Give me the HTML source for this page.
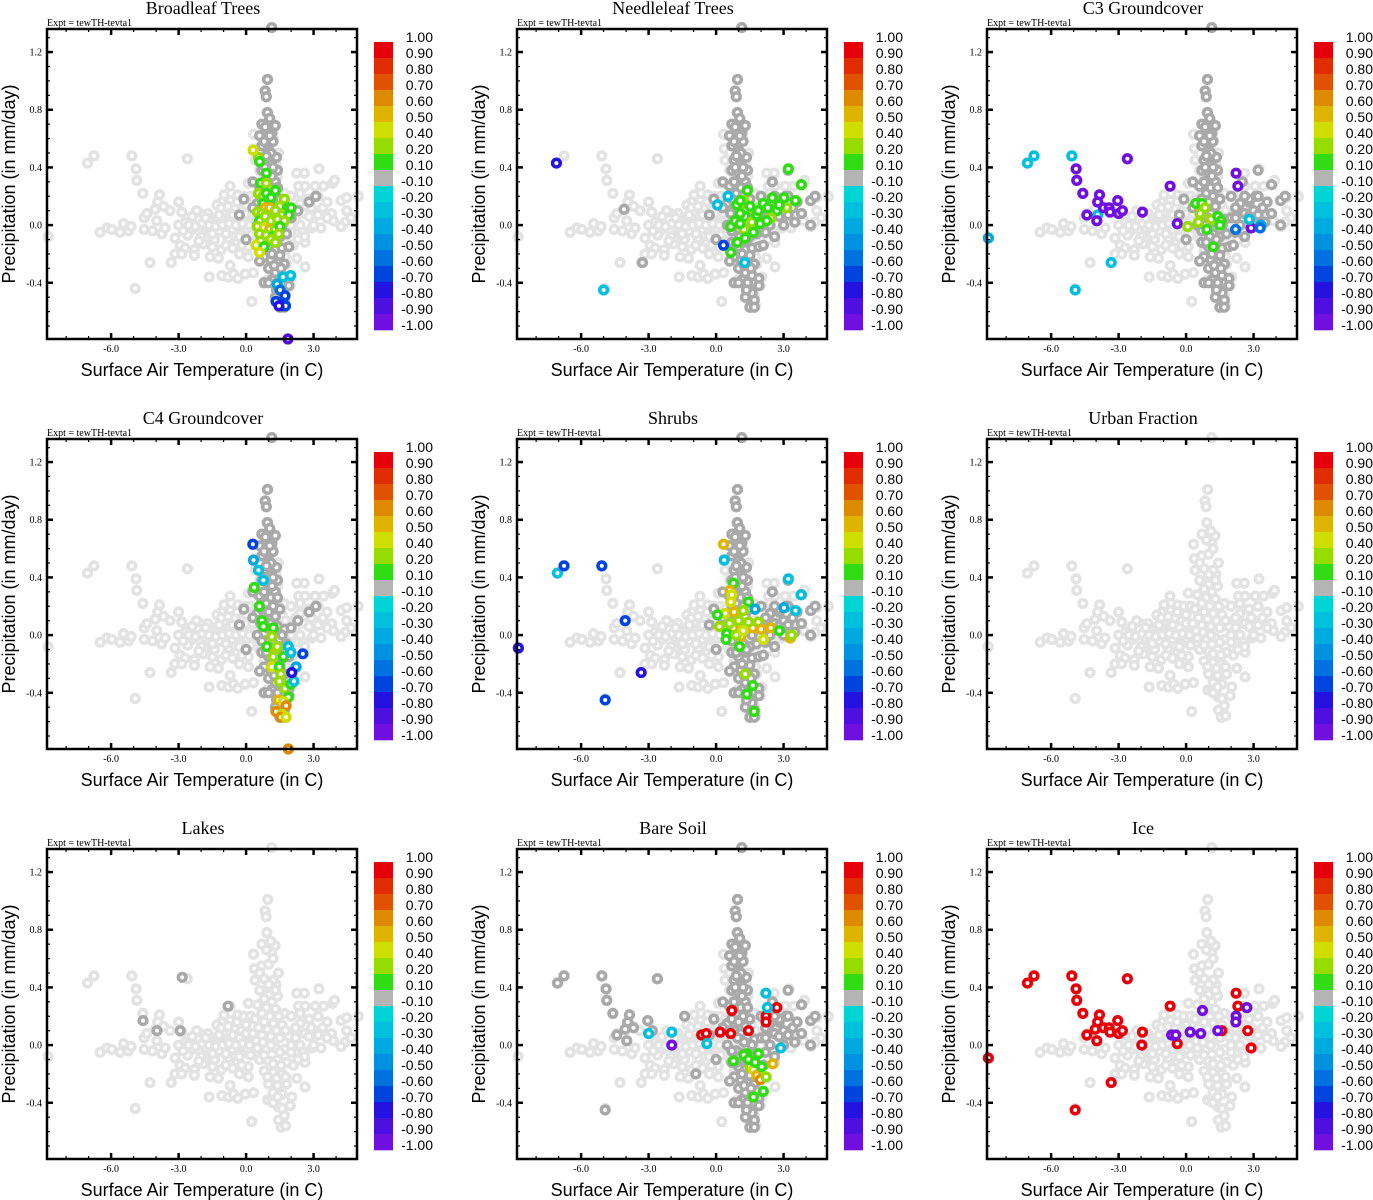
<!DOCTYPE html>
<html><head><meta charset="utf-8"><title>Vegetation fraction correlation panels</title>
<style>
html,body{margin:0;padding:0;background:#fff;}
svg{display:block;}
.ttl{font-family:"Liberation Serif",serif;font-size:18px;fill:#000;}
.expt{font-family:"Liberation Serif",serif;font-size:10px;fill:#000;}
.tick{font-family:"Liberation Serif",serif;font-size:10px;fill:#000;}
.axt{font-family:"Liberation Sans",sans-serif;font-size:18px;fill:#000;}
.cbl{font-family:"Liberation Sans",sans-serif;font-size:14px;fill:#000;}
</style></head>
<body>
<svg id="chart" width="1373" height="1200" viewBox="0 0 1373 1200" xmlns="http://www.w3.org/2000/svg"></svg>
<script>
// ---------- data ----------
const panelTitles = ["Broadleaf Trees","Needleleaf Trees","C3 Groundcover","C4 Groundcover","Shrubs","Urban Fraction","Lakes","Bare Soil","Ice"];
const xTicks = [-6,-3,0,3];
const xTickLabels = ["-6.0","-3.0","0.0","3.0"];
const yTicks = [-0.4,0,0.4,0.8,1.2];
const yTickLabels = ["-0.4","0.0","0.4","0.8","1.2"];
const levels = [1.0,0.9,0.8,0.7,0.6,0.5,0.4,0.2,0.1,-0.1,-0.2,-0.3,-0.4,-0.5,-0.6,-0.7,-0.8,-0.9,-1.0];
const levelLabels = ["1.00","0.90","0.80","0.70","0.60","0.50","0.40","0.20","0.10","-0.10","-0.20","-0.30","-0.40","-0.50","-0.60","-0.70","-0.80","-0.90","-1.00"];
const levelColors = ["#e6000a","#e02c00","#e05200","#de8a00","#dfb400","#cedf00","#96dc00","#32dc14","#b4b4b4","#00d4d4","#00c0de","#00aae0","#0092e0","#0072e0","#0044e0","#2412e0","#4e10e0","#7010e0"];

// base cloud (temperature C, precipitation mm/day)
const base = [[-7.05,0.43],[-6.76,0.48],[-5.08,0.48],[-4.89,0.39],[-4.86,0.31],[-2.61,0.46],[-4.59,0.22],[-3.85,0.21],[-3.93,0.16],[-4.04,0.11],[-4.53,0.05],[-4.41,0.08],[-3.97,0.03],[-6.49,-0.05],[-6.19,-0.02],[-5.97,-0.03],[-5.6,-0.05],[-5.45,0.01],[-5.23,-0.04],[-5.11,-0.01],[-4.53,-0.03],[-4.16,-0.04],[-3.75,-0.06],[-3.6,-0.02],[-3.38,0.10],[-3.67,0.13],[-3.0,0.16],[-2.86,0.09],[-3.16,-0.09],[-2.93,-0.14],[-2.71,-0.16],[-3.16,-0.20],[-2.86,-0.20],[-3.33,-0.26],[-4.27,-0.26],[-2.30,-0.17],[-2.30,-0.21],[-4.93,-0.44],[-2.04,0.08],[-1.82,-0.10],[-1.6,-0.22],[-1.64,-0.36],[-1.23,-0.23],[-1.08,-0.35],[-0.71,-0.28],[-0.79,-0.36],[-0.56,-0.34],[-0.37,-0.37],[-0.04,-0.34],[0.33,-0.33],[0.25,-0.53],[-1.08,0.16],[-0.98,0.21],[-0.71,0.27],[-0.37,0.21],[0.10,0.29],[0.33,0.63],[0.37,0.53],[0.96,1.01],[0.84,0.93],[0.89,0.89],[0.92,0.78],[0.70,0.70],[1.29,0.69],[1.14,0.64],[0.70,0.55],[1.44,0.50],[1.33,0.42],[2.25,0.36],[2.59,0.36],[3.24,0.39],[2.33,0.27],[2.62,0.27],[3.07,0.27],[3.44,0.27],[3.84,0.29],[3.93,0.31],[4.22,0.17],[4.47,0.19],[4.99,0.20],[4.47,0.10],[4.67,0.05],[4.40,0.02],[4.22,-0.01],[3.88,0.03],[3.33,-0.02],[2.92,-0.02],[2.55,-0.05],[2.62,-0.12],[2.25,-0.23],[2.62,-0.29],[2.03,-0.36],[1.96,-0.42],[1.44,-0.52],[1.56,-0.57],[1.76,-0.56],[1.70,-0.49],[1.44,-0.43],[0.96,-0.38],[1.14,-0.37],[1.14,1.37],[-8.8,-0.08],
[-3,0.0],[-2.7,0.02],[-2.4,-0.03],[-2.1,0.04],[-1.8,-0.02],[-1.5,0.03],[-1.2,-0.04],[-0.9,0.02],[-0.6,-0.03],[-0.3,0.05],[-2.6,-0.07],[-2.0,-0.08],[-1.4,-0.1],[-0.8,-0.09],[-0.4,-0.12],[-1.7,0.08],[-1.0,0.09],[-0.5,0.12],[-0.2,-0.06],[0,0.02],[-2.2,0.1],[-1.3,0.14],[-0.7,0.17],[-0.1,0.2],[-1.9,-0.13],[-1.1,-0.17],[-0.3,-0.2],[0.1,-0.15],[-2.4,0.06],[-1.6,-0.05],[-0.9,-0.14],[-0.2,0.1],[-1.3,0.05],[-2.8,-0.04],
[-2.55,0.0],[-2.25,-0.01],[-1.95,0.01],[-1.65,0.0],[-1.35,-0.01],[-1.05,0.0],[-0.75,0.01],[-0.45,0.0],[-0.15,0.01],[0.15,0.0],[-1.8,0.05],[-1.5,-0.06],[-1.2,0.07],[-0.9,-0.06],[-0.6,0.07],[-0.3,-0.08],[0.0,0.08],[0.2,-0.07],[-1.1,0.12],[-0.8,0.13],[-0.4,0.16],[0.0,0.14],[0.2,0.2],[-0.6,-0.16],[-0.2,-0.14],[0.1,-0.22],[-1.5,-0.15],[-2.1,-0.11],
[0.4,0.45],[0.8,0.46],[1.2,0.45],[0.6,0.38],[1.0,0.35],[1.4,0.34],[0.5,0.28],[0.9,0.26],[1.3,0.25],[1.7,0.22],[0.4,0.18],[0.8,0.16],[1.2,0.15],[1.6,0.14],[0.3,0.08],[0.7,0.07],[1.1,0.06],[1.5,0.05],[1.9,0.06],[0.5,-0.02],[0.9,-0.03],[1.3,-0.02],[1.7,-0.03],[0.6,-0.1],[1.0,-0.11],[1.4,-0.1],[1.8,-0.12],[0.8,-0.18],[1.2,-0.19],[1.6,-0.2],[1.0,-0.27],[1.4,-0.28],[1.8,-0.27],[1.2,-0.33],[1.6,-0.34],[1.0,0.56],[1.2,0.6],[0.9,0.66],[1.1,0.72],
[0.6,0.5],[1.0,0.42],[1.3,0.38],[0.8,0.32],[1.15,0.3],[0.7,0.22],[1.05,0.2],[1.45,0.2],[0.55,0.12],[0.95,0.11],[1.35,0.1],[1.75,0.1],[0.45,0.03],[0.75,0.02],[1.1,0.0],[1.5,-0.05],[0.8,-0.07],[1.2,-0.13],[1.55,-0.14],[0.95,-0.22],[1.35,-0.23],[1.75,-0.22],[1.2,-0.4],[1.6,-0.44],[1.4,-0.36],
[2.2,0.05],[2.6,0.08],[3.0,0.1],[3.4,0.12],[2.4,0.15],[2.8,0.18],[3.2,0.2],[3.6,0.16],[2.2,-0.05],[2.6,-0.08],[3.0,0.0],[2.0,0.2],[2.1,-0.14],[3.8,0.08],[2.0,-0.05],[2.4,0.0],[3.6,0.05],[2.9,0.12],[2.4,0.22],[2.8,0.06],[3.2,0.07],[2.2,0.12],[2.0,0.0],[2.3,-0.1]];

// darker grey (|r| < 0.1) groups
const darkColumn = [[0.95,1.01],[0.85,0.93],[0.9,0.89],[0.95,0.78],[0.7,0.7],[1.3,0.69],[1.15,0.64],[0.6,0.62],[0.9,0.6],[1.2,0.58],[0.7,0.55],[1.0,0.52],[1.35,0.47],[0.8,0.45],[1.1,0.42],[1.4,0.38],[0.7,0.38],[1.0,0.32],[1.3,0.3],[0.6,0.27],[0.9,0.22],[1.2,0.2],[1.5,0.18],[0.5,0.15],[0.8,0.1],[1.1,0.08],[1.4,0.06],[1.7,0.04],[2.0,0.05],[2.3,0.1],[2.8,0.16],[3.1,0.2],[0.5,0.0],[0.9,-0.04],[1.2,-0.06],[1.5,-0.08],[1.8,-0.06],[0.7,-0.12],[1.0,-0.15],[1.3,-0.17],[1.6,-0.16],[1.9,-0.15],[0.8,-0.22],[1.1,-0.24],[1.4,-0.26],[1.7,-0.27],[1.0,-0.3],[1.3,-0.33],[1.6,-0.35],[1.9,-0.37],[1.15,-0.38],[1.9,-0.42],[1.5,-0.45],[1.3,-0.5],[1.7,-0.52],[1.5,-0.57],[1.7,-0.57],[-0.1,0.18],[0.3,0.12],[-0.3,0.07],[0.0,-0.1],[0.6,-0.25],[0.8,-0.4],[1.0,-0.4],[0.3,0.3],[1.14,1.37],
[1.05,0.74],[0.85,0.68],[1.05,0.62],[0.8,0.58],[1.1,0.5],[0.9,0.48],[1.2,0.4],[0.85,0.4],[1.15,0.34],[0.8,0.3],[1.1,0.26],[1.4,0.26],[0.7,0.18],[1.0,0.16],[1.3,0.13],[0.65,0.08],[0.95,0.05],[1.25,0.02],[1.6,0.0],[0.7,-0.04],[1.05,-0.08],[1.35,-0.1],[0.9,-0.12],[1.15,-0.2],[1.5,-0.21],[1.25,-0.28],[1.55,-0.3],[1.4,-0.4],[1.6,-0.47],[1.35,-0.45]];
const darkRight = [[2.2,0.05],[2.6,0.08],[3.0,0.1],[3.4,0.12],[2.4,0.15],[2.8,0.18],[3.2,0.2],[3.6,0.16],[2.2,-0.05],[2.6,-0.08],[3.0,0.0],[2.0,0.2],[2.1,-0.14],[3.8,0.08],[3.2,0.38],[3.8,0.28],[4.2,0.17],[4.4,0.2],[4.2,0.0],[2.5,0.3],[3.5,0.02],[2.4,0.0],[2.8,0.06],[3.2,0.07],[2.2,0.12],[2.6,0.2]];
const darkLeft = [[-7.05,0.43],[-6.76,0.48],[-5.08,0.48],[-4.89,0.39],[-4.86,0.31],[-4.59,0.22],[-3.85,0.21],[-3.93,0.16],[-4.04,0.11],[-4.41,0.07],[-3.97,0.03],[-3.67,0.12],[-3.04,0.17],[-2.83,0.10],[-2.61,0.46],[-4.93,-0.45],[-1.4,0.2],[-0.9,-0.2]];
const lakesDark = [[-2.84,0.47],[-4.58,0.17],[-3.96,0.1],[-2.93,0.1],[-0.8,0.27]];
const needleDark = [[-4.09,0.11],[-3.27,-0.26]];

// coloured points [temp, precip, correlation]
const broadleafPts = [[0.55,0.47,0.3],[0.6,0.44,0.15],[0.9,0.36,0.15],[0.65,0.29,0.15],[0.9,0.29,0.3],[0.55,0.22,0.3],[0.75,0.2,0.3],[0.9,0.22,0.15],[1.3,0.24,0.15],[1.1,0.19,0.15],[1.7,0.18,0.3],[0.75,0.15,0.15],[1.15,0.12,0.15],[0.85,0.12,0.55],[1.05,0.12,0.55],[1.5,0.13,0.3],[1.85,0.12,0.15],[2.0,0.12,0.15],[0.5,0.09,0.3],[0.7,0.08,0.3],[1.3,0.1,0.3],[1.6,0.07,0.3],[1.9,0.07,0.15],[0.6,0.03,0.15],[0.95,0.04,0.45],[0.85,0.06,0.3],[1.1,0.03,0.3],[1.4,0.04,0.3],[1.7,0.03,0.3],[0.5,-0.01,0.3],[0.8,-0.02,0.45],[1.05,-0.03,0.6],[1.3,-0.03,0.3],[1.5,-0.01,0.15],[0.6,-0.06,0.3],[0.9,-0.07,0.3],[1.2,-0.08,0.15],[1.45,-0.06,0.3],[0.65,-0.11,0.3],[1.1,-0.1,0.3],[1.3,-0.12,0.3],[0.45,-0.14,0.45],[0.8,-0.15,0.15],[0.6,-0.19,0.45],[0.31,0.52,0.45],
[1.64,-0.36,-0.25],[1.98,-0.35,-0.25],[1.38,-0.41,-0.35],[1.51,-0.45,-0.5],[1.73,-0.49,-0.65],[1.33,-0.53,-0.65],[1.62,-0.56,-0.7],[1.75,-0.56,-0.65],[1.46,-0.56,-0.7],[1.86,-0.79,-0.85]];
const needlePts = [[3.21,0.39,0.15],[3.79,0.28,0.15],[3.53,0.17,0.15],[3.14,0.12,0.3],[3.02,0.19,0.15],[2.70,0.10,0.15],[2.5,0.19,0.15],[2.43,0.05,0.3],[2.1,0.15,0.15],[1.39,0.24,0.15],[1.24,0.17,0.3],[1.36,0.11,0.3],[1.29,0.06,0.15],[1.59,0.02,0.3],[1.24,-0.03,0.3],[0.92,0.14,0.15],[1.07,0.08,0.15],[0.65,-0.01,0.15],[1.29,-0.09,0.15],[0.95,-0.12,0.15],[1.66,-0.05,0.15],[1.96,0.01,0.15],[2.25,0.03,0.15],[1.81,0.07,0.15],[0.65,-0.19,0.15],[0.84,0.03,0.15],[1.07,0.01,0.15],[1.51,0.13,0.15],[1.88,0.10,0.15],[1.07,0.17,0.15],[2.3,0.12,0.15],[2.8,0.14,0.15],
[0.06,0.14,-0.25],[0.53,0.2,-0.25],[1.27,-0.26,-0.25],[0.33,-0.14,-0.6],[-7.1,0.43,-0.75],[-5.0,-0.45,-0.25]];
const c3Pts = [[-7.05,0.43,-0.25],[-6.76,0.48,-0.25],[-5.08,0.48,-0.25],[-3.93,0.07,-0.25],[-3.33,-0.26,-0.25],[-4.93,-0.45,-0.25],[-8.79,-0.09,-0.35],
[-4.89,0.39,-0.95],[-4.86,0.31,-0.95],[-4.59,0.22,-0.95],[-3.85,0.21,-0.95],[-3.93,0.16,-0.95],[-4.41,0.07,-0.95],[-3.97,0.03,-0.95],[-3.67,0.12,-0.95],[-3.42,0.12,-0.95],[-3.38,0.09,-0.95],[-3.04,0.17,-0.95],[-3.0,0.08,-0.95],[-2.83,0.10,-0.95],[-2.61,0.46,-0.95],[-1.94,0.09,-0.95],[-0.71,0.27,-0.95],[-0.39,0.01,-0.95],[2.22,0.36,-0.95],[2.30,0.27,-0.95],[2.89,-0.02,-0.95],
[2.81,0.04,-0.25],[3.33,0.0,-0.3],[3.29,-0.02,-0.5],[2.2,-0.03,-0.55],
[0.43,0.15,0.15],[0.70,0.15,0.15],[0.84,0.12,0.3],[0.62,0.08,0.3],[0.55,0.02,0.3],[0.07,-0.01,0.3],[0.92,-0.03,0.15],[1.11,0.04,0.3],[1.21,-0.15,0.15],[1.41,0.06,0.15],[1.55,0.03,0.15],[1.5,0.0,0.15]];
const c4Pts = [[0.30,0.63,-0.6],[0.33,0.52,-0.3],[0.55,0.45,-0.2],[0.77,0.38,-0.2],[0.36,0.33,0.15],[0.59,0.2,0.15],[0.7,0.1,0.15],[0.77,0.06,0.15],[1.21,0.05,0.15],[1.14,-0.01,0.3],[0.92,-0.08,0.15],[1.29,-0.12,0.6],[1.39,-0.08,0.3],[1.21,-0.15,0.3],[1.66,-0.15,0.15],[1.14,-0.22,0.45],[1.48,-0.22,0.15],[1.54,-0.27,0.3],[1.48,-0.32,0.3],[1.73,-0.37,0.3],[1.99,-0.34,0.15],[1.88,-0.43,0.15],[1.44,-0.45,0.55],[1.66,-0.46,0.45],[1.78,-0.49,0.65],[1.33,-0.53,0.65],[1.59,-0.55,0.45],[1.54,-0.57,0.65],[1.78,-0.57,0.45],[1.88,-0.79,0.65],
[1.88,-0.08,-0.25],[1.99,-0.12,-0.25],[2.22,-0.22,-0.3],[2.13,-0.32,-0.25],[2.52,-0.13,-0.6],[2.03,-0.26,-0.7]];
const shrubPts = [[0.33,0.63,0.55],[0.36,0.52,-0.25],[0.77,0.36,0.15],[0.62,0.31,0.55],[0.7,0.28,0.45],[0.65,0.23,0.45],[1.44,0.23,0.15],[0.4,0.15,0.45],[0.06,0.14,0.15],[0.8,0.16,0.55],[1.21,0.17,0.3],[0.15,0.06,0.3],[0.77,0.05,0.6],[0.47,0.01,0.15],[0.44,-0.03,0.15],[1.1,-0.01,0.55],[1.04,-0.08,0.15],[1.48,0.07,0.6],[1.63,0.05,0.55],[1.88,0.09,0.4],[2.0,0.04,0.6],[2.1,-0.03,0.45],[2.43,0.05,0.6],[2.81,0.03,0.15],[3.29,-0.02,0.6],[3.36,0.0,0.4],[1.29,-0.27,0.3],[1.63,-0.35,0.15],[1.36,-0.41,0.15],[1.69,-0.53,0.15],[1.44,0.09,0.3],[1.0,0.1,0.4],[0.6,0.08,0.3],[0.9,0.0,0.4],[1.2,0.03,0.45],
[3.21,0.39,-0.25],[3.78,0.28,-0.25],[3.53,0.17,-0.25],[1.73,0.18,-0.3],[3.02,0.19,-0.3],
[-7.05,0.43,-0.25],[-6.76,0.48,-0.65],[-5.08,0.48,-0.65],[-4.04,0.1,-0.6],[-3.33,-0.26,-0.7],[-4.93,-0.45,-0.6],[-8.79,-0.09,-0.75]];
const barePts = [[0.70,0.24,0.95],[-0.64,0.07,0.95],[-0.44,0.08,0.95],[0.18,0.09,0.95],[0.65,0.08,0.95],[1.44,0.10,0.95],[2.22,0.2,0.95],[2.22,0.16,0.95],[2.7,0.26,0.95],
[2.21,0.36,-0.25],[2.28,0.26,-0.25],[2.87,-0.02,-0.25],[-1.97,0.09,-0.25],[-0.41,0.01,-0.25],[-3.0,0.08,-0.25],[-1.97,0.0,-0.95],
[1.36,-0.06,0.15],[1.24,-0.07,0.15],[1.88,-0.06,0.15],[0.77,-0.11,0.15],[1.51,-0.15,0.4],[1.66,-0.17,0.45],[1.81,-0.21,0.55],[2.03,-0.15,0.15],[1.96,-0.24,0.65],[2.22,-0.22,0.3],[2.52,-0.13,0.55],[2.1,-0.32,0.15],[1.66,-0.36,0.15],[1.44,-0.1,0.15],[1.73,-0.12,0.15]];
const icePts = [[-7.05,0.43,0.95],[-6.76,0.48,0.95],[-5.08,0.48,0.95],[-4.89,0.39,0.95],[-4.86,0.31,0.95],[-4.59,0.22,0.95],[-3.85,0.21,0.95],[-3.93,0.16,0.95],[-4.04,0.11,0.95],[-4.41,0.07,0.95],[-3.97,0.03,0.95],[-3.67,0.12,0.95],[-3.42,0.12,0.95],[-3.38,0.09,0.95],[-3.04,0.17,0.95],[-3.0,0.08,0.95],[-2.83,0.10,0.95],[-2.61,0.46,0.95],[-1.94,0.09,0.95],[-1.97,0.0,0.95],[-3.33,-0.26,0.95],[-8.79,-0.09,0.95],[-0.71,0.27,0.95],[-0.39,0.01,0.95],[1.59,0.10,0.95],[2.22,0.36,0.95],[2.30,0.27,0.95],[2.74,0.10,0.95],[2.89,-0.02,0.95],[-4.93,-0.45,0.95],
[-0.64,0.07,-0.95],[-0.46,0.07,-0.95],[0.18,0.09,-0.95],[0.65,0.08,-0.95],[0.73,0.24,-0.95],[1.41,0.10,-0.95],[2.22,0.20,-0.95],[2.21,0.16,-0.95],[2.70,0.26,-0.95]];

const panelDark = [[darkColumn],[darkColumn,darkRight,needleDark],[darkColumn,darkRight],[darkColumn],[darkColumn,darkRight],[],[lakesDark],[darkColumn,darkRight,darkLeft],[]];
const panelPts = [broadleafPts,needlePts,c3Pts,c4Pts,shrubPts,[],[],barePts,icePts];

// ---------- drawing ----------
const NS = "http://www.w3.org/2000/svg";
const svg = document.getElementById("chart");
const PL = 47, PR = 357, PT = 29, PB = 339;
const xMin = -8.85, xMax = 4.93, yMin = -0.79, yMax = 1.36;
const MR = 3.8, MW = 3.6;
function xS(t){ return PL + (t - xMin) / (xMax - xMin) * (PR - PL); }
function yS(p){ return PB - (p - yMin) / (yMax - yMin) * (PB - PT); }
function colorFor(v){
  for (let i = 0; i < levels.length - 1; i++) { if (v <= levels[i] && v > levels[i+1]) return levelColors[i]; }
  return levelColors[levelColors.length - 1];
}
function mk(tag, attrs, parent){
  const e = document.createElementNS(NS, tag);
  for (const k in attrs) e.setAttribute(k, attrs[k]);
  parent.appendChild(e);
  return e;
}
function slug(s){ return s.toLowerCase().replace(/[^a-z0-9]+/g,'-').replace(/^-|-$/g,''); }

panelTitles.forEach((title, idx) => {
  const col = idx % 3, row = Math.floor(idx / 3);
  const g = mk("g", {transform: "translate(" + (col*470) + "," + (row*410) + ")"}, svg);
  
  

  const t = mk("text", {x: 203, y: 14, "text-anchor": "middle", class: "ttl"}, g);
  t.textContent = title;
  
  
  const ex = mk("text", {x: 47, y: 26, class: "expt"}, g);
  ex.textContent = "Expt = tewTH-tevta1";
  
  

  const pg = mk("g", {}, g);
  
  
  base.forEach(d => {
    const c = mk("circle", {cx: xS(d[0]), cy: yS(d[1]), r: MR, fill: "#fff", stroke: "#e3e3e3", "stroke-width": MW}, pg);
    
    
  });
  panelDark[idx].forEach(set => set.forEach(d => {
    const c = mk("circle", {cx: xS(d[0]), cy: yS(d[1]), r: MR, fill: "#fff", stroke: "#a9a9a9", "stroke-width": MW}, pg);
    
    
  }));
  panelPts[idx].forEach(d => {
    const c = mk("circle", {cx: xS(d[0]), cy: yS(d[1]), r: MR, fill: "#fff", stroke: colorFor(d[2]), "stroke-width": MW}, pg);
    
    
  });

  const fr = mk("rect", {x: PL, y: PT, width: PR-PL, height: PB-PT, fill: "none", stroke: "#000", "stroke-width": 2.5}, g);
  
  

  const tg = mk("g", {stroke: "#000"}, g);
  
  
  for (let v = -8; v <= 4; v++) {
    const major = xTicks.indexOf(v) >= 0;
    const L = major ? 6 : 3, w = major ? 2.5 : 1.2;
    mk("line", {x1: xS(v), x2: xS(v), y1: PB, y2: PB-L, "stroke-width": w}, tg);
    mk("line", {x1: xS(v), x2: xS(v), y1: PT, y2: PT+L, "stroke-width": w}, tg);
  }
  for (let k = -7; k <= 13; k++) {
    const v = k / 10;
    const major = (k % 4 === 0);
    const L = major ? 6 : 3, w = major ? 2.5 : 1.2;
    mk("line", {x1: PL, x2: PL+L, y1: yS(v), y2: yS(v), "stroke-width": w}, tg);
    mk("line", {x1: PR, x2: PR-L, y1: yS(v), y2: yS(v), "stroke-width": w}, tg);
  }
  xTicks.forEach((v, i) => {
    const tl = mk("text", {x: xS(v), y: 352, "text-anchor": "middle", class: "tick"}, g);
    tl.textContent = xTickLabels[i];
    
    
  });
  yTicks.forEach((v, i) => {
    const tl = mk("text", {x: 42, y: yS(v) + 3.5, "text-anchor": "end", class: "tick"}, g);
    tl.textContent = yTickLabels[i];
    
    
  });
  const xt = mk("text", {x: 202, y: 376, "text-anchor": "middle", class: "axt"}, g);
  xt.textContent = "Surface Air Temperature (in C)";
  
  
  const yt = mk("text", {x: 0, y: 0, "text-anchor": "middle", class: "axt", transform: "translate(15,184) rotate(-90)"}, g);
  yt.textContent = "Precipitation (in mm/day)";
  
  

  const cb = mk("g", {}, g);
  
  
  levelColors.forEach((c, i) => {
    const r = mk("rect", {x: 374, y: 42 + i*16, width: 19, height: 16.3, fill: c}, cb);
    
    
  });
  levelLabels.forEach((lab, i) => {
    const tl = mk("text", {x: 433, y: 42 + i*16, "text-anchor": "end", class: "cbl"}, cb);
    tl.textContent = lab;
    
    
  });
});
</script>
</body></html>
